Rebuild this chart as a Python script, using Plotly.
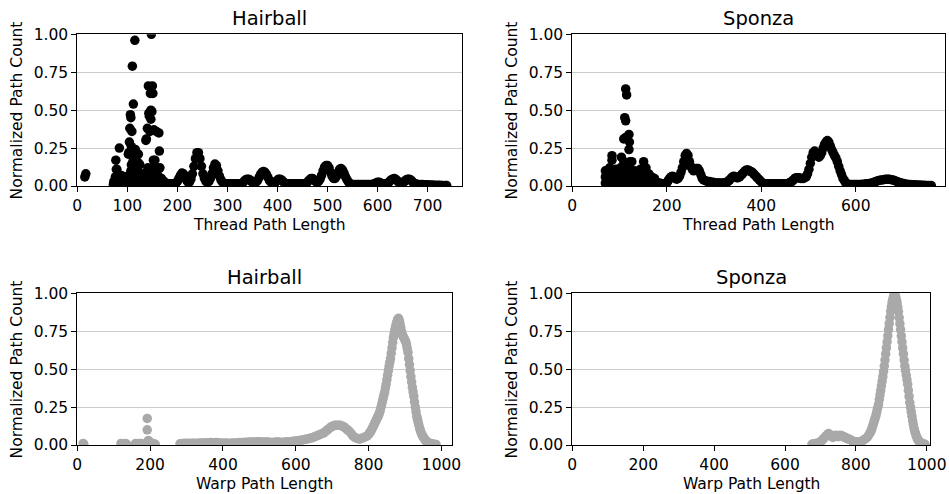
import plotly.graph_objects as go

# ---------------- data (x = path length, y = normalized path count) ----------------
hairball_thread_points = [
    (15, 0.06), (17, 0.08),
    # dense low cluster
    (72, 0.01), (73, 0.03), (75, 0.02), (76, 0.06), (78, 0.11), (79, 0.04), (80, 0.01), (81, 0.08),
    (83, 0.03), (85, 0.05), (86, 0.01), (88, 0.07), (90, 0.02), (91, 0.04), (93, 0.01), (95, 0.03),
    (96, 0.06), (98, 0.02), (100, 0.04), (101, 0.01), (103, 0.07), (105, 0.02), (107, 0.10), (108, 0.04),
    (110, 0.01), (112, 0.13), (113, 0.05), (115, 0.02), (116, 0.08), (118, 0.11), (119, 0.03), (120, 0.06),
    (122, 0.02), (123, 0.09), (125, 0.04), (126, 0.01), (128, 0.07), (129, 0.03), (131, 0.05), (132, 0.08),
    (134, 0.02), (135, 0.06), (137, 0.01), (138, 0.09), (140, 0.03), (141, 0.12), (143, 0.05), (144, 0.01),
    (146, 0.08), (148, 0.03), (149, 0.10), (151, 0.02), (152, 0.06), (154, 0.01), (155, 0.12), (157, 0.04),
    (158, 0.09), (160, 0.02), (161, 0.07), (163, 0.01), (164, 0.05), (166, 0.03),
    # scattered high points
    (77, 0.17), (79, 0.11), (84, 0.25), (102, 0.21), (103, 0.22), (104, 0.29), (105, 0.38), (106, 0.47),
    (107, 0.45), (108, 0.26), (108, 0.14), (109, 0.36), (110, 0.79), (111, 0.16), (112, 0.54), (113, 0.22),
    (114, 0.14), (115, 0.96), (116, 0.24), (117, 0.21), (119, 0.16), (122, 0.21), (123, 0.15), (125, 0.14),
    (137, 0.30), (138, 0.31), (140, 0.38), (142, 0.66), (143, 0.48), (144, 0.46), (145, 0.36), (146, 0.61),
    (147, 0.50), (147, 0.44), (148, 1.00), (149, 0.49), (150, 0.66), (151, 0.61), (152, 0.17), (153, 0.37),
    (154, 0.13), (155, 0.17), (157, 0.10), (158, 0.36), (163, 0.35), (164, 0.23), (165, 0.12),
    # continuous part
    (168, 0.05), (171, 0.035), (174, 0.025), (177, 0.02), (181, 0.015), (185, 0.015), (189, 0.015),
    (193, 0.015), (197, 0.02), (200, 0.03), (203, 0.05), (206, 0.07), (209, 0.085), (212, 0.08),
    (215, 0.06), (218, 0.04), (221, 0.025), (224, 0.025), (227, 0.045), (230, 0.08), (233, 0.13),
    (236, 0.18), (239, 0.22), (242, 0.22), (245, 0.18), (248, 0.13), (251, 0.08), (254, 0.05),
    (257, 0.03), (260, 0.025), (263, 0.03), (266, 0.05), (269, 0.08), (272, 0.12), (275, 0.145),
    (278, 0.135), (281, 0.10), (284, 0.065), (287, 0.04), (290, 0.025), (294, 0.015), (298, 0.015),
    (302, 0.015), (306, 0.015), (310, 0.015), (314, 0.015), (318, 0.015), (322, 0.015), (326, 0.015),
    (330, 0.02), (333, 0.03), (336, 0.04), (339, 0.045), (342, 0.045), (345, 0.04), (348, 0.03),
    (351, 0.02), (354, 0.02), (357, 0.025), (360, 0.035), (363, 0.055), (366, 0.075), (369, 0.09),
    (372, 0.095), (375, 0.09), (378, 0.075), (381, 0.055), (384, 0.035), (387, 0.025), (390, 0.02),
    (393, 0.02), (396, 0.025), (399, 0.035), (402, 0.045), (405, 0.045), (408, 0.04), (411, 0.03),
    (414, 0.02), (418, 0.015), (422, 0.015), (426, 0.015), (430, 0.015), (434, 0.015), (438, 0.015),
    (442, 0.015), (446, 0.015), (450, 0.015), (454, 0.015), (458, 0.02), (461, 0.03), (464, 0.04),
    (467, 0.05), (470, 0.05), (473, 0.04), (476, 0.03), (479, 0.025), (482, 0.03), (485, 0.045),
    (488, 0.07), (491, 0.10), (494, 0.125), (497, 0.135), (500, 0.135), (503, 0.12), (506, 0.09),
    (509, 0.065), (512, 0.05), (515, 0.05), (518, 0.065), (521, 0.09), (524, 0.11), (527, 0.115),
    (530, 0.105), (533, 0.085), (536, 0.06), (539, 0.04), (542, 0.025), (545, 0.015), (549, 0.01),
    (553, 0.01), (557, 0.01), (561, 0.01), (565, 0.01), (569, 0.01), (573, 0.01), (577, 0.01),
    (581, 0.01), (585, 0.01), (589, 0.01), (593, 0.015), (597, 0.02), (600, 0.025), (603, 0.025),
    (606, 0.02), (610, 0.015), (614, 0.01), (618, 0.015), (621, 0.02), (624, 0.03), (627, 0.04),
    (630, 0.045), (633, 0.05), (636, 0.045), (639, 0.035), (642, 0.025), (645, 0.02), (648, 0.02),
    (651, 0.025), (654, 0.03), (657, 0.04), (660, 0.045), (663, 0.045), (666, 0.04), (669, 0.03),
    (672, 0.02), (676, 0.015), (680, 0.01), (685, 0.01), (690, 0.01), (695, 0.008), (700, 0.008),
    (705, 0.006), (710, 0.006), (715, 0.005), (720, 0.005), (725, 0.005), (730, 0.004), (735, 0.004),
    (738, 0.003),
]

sponza_thread_points = [
    # dense low cluster
    (70, 0.02), (70, 0.06), (70, 0.10), (72, 0.01), (73, 0.05), (75, 0.09), (77, 0.03), (79, 0.12),
    (80, 0.06), (82, 0.01), (84, 0.10), (86, 0.04), (88, 0.08), (90, 0.02), (92, 0.11), (94, 0.05),
    (96, 0.01), (98, 0.07), (100, 0.03), (102, 0.12), (104, 0.06), (106, 0.02), (108, 0.09), (110, 0.04),
    (112, 0.13), (114, 0.01), (116, 0.07), (118, 0.10), (120, 0.03), (122, 0.06), (124, 0.11), (126, 0.02),
    (128, 0.08), (130, 0.04), (132, 0.10), (134, 0.01), (136, 0.06), (138, 0.09), (140, 0.03), (142, 0.07),
    (144, 0.11), (146, 0.02), (148, 0.05), (150, 0.10), (152, 0.03), (154, 0.07), (156, 0.12), (158, 0.04),
    (160, 0.02), (162, 0.08), (164, 0.05), (166, 0.03), (168, 0.06), (170, 0.04), (172, 0.02), (174, 0.05),
    (176, 0.03), (178, 0.02), (181, 0.02),
    # scattered high points
    (113, 0.64), (115, 0.60), (111, 0.45), (113, 0.43), (109, 0.31), (113, 0.32), (120, 0.34),
    (121, 0.29), (120, 0.24), (84, 0.20), (84, 0.17), (104, 0.19), (109, 0.16), (122, 0.16),
    (126, 0.16), (151, 0.16),
    # continuous part
    (185, 0.02), (189, 0.015), (193, 0.015), (197, 0.015), (200, 0.02), (203, 0.035), (206, 0.05),
    (209, 0.06), (212, 0.065), (215, 0.06), (218, 0.05), (221, 0.045), (224, 0.05), (227, 0.065),
    (230, 0.09), (233, 0.12), (236, 0.16), (239, 0.20), (242, 0.215), (245, 0.20), (248, 0.16),
    (251, 0.13), (254, 0.11), (257, 0.10), (260, 0.105), (263, 0.115), (266, 0.115), (269, 0.10),
    (272, 0.075), (275, 0.05), (278, 0.04), (282, 0.035), (286, 0.03), (290, 0.03), (294, 0.025),
    (298, 0.025), (302, 0.02), (306, 0.02), (310, 0.02), (314, 0.02), (318, 0.02), (322, 0.02),
    (326, 0.025), (330, 0.03), (333, 0.04), (336, 0.05), (339, 0.06), (342, 0.065), (345, 0.06),
    (348, 0.055), (351, 0.055), (354, 0.06), (357, 0.07), (360, 0.08), (363, 0.09), (366, 0.10),
    (369, 0.105), (372, 0.105), (375, 0.10), (378, 0.095), (381, 0.09), (384, 0.08), (387, 0.07),
    (390, 0.06), (393, 0.05), (396, 0.04), (399, 0.03), (403, 0.02), (407, 0.015), (411, 0.015),
    (415, 0.015), (419, 0.015), (423, 0.015), (427, 0.015), (431, 0.015), (435, 0.015), (439, 0.015),
    (443, 0.015), (447, 0.015), (451, 0.015), (455, 0.015), (459, 0.02), (462, 0.025), (465, 0.03),
    (468, 0.04), (471, 0.05), (474, 0.055), (477, 0.055), (480, 0.055), (483, 0.05), (486, 0.05),
    (489, 0.05), (492, 0.055), (495, 0.06), (498, 0.08), (501, 0.11), (504, 0.15), (507, 0.19),
    (510, 0.22), (513, 0.23), (516, 0.215), (519, 0.20), (522, 0.19), (525, 0.20), (528, 0.22),
    (531, 0.25), (534, 0.275), (537, 0.29), (540, 0.30), (543, 0.29), (546, 0.265), (549, 0.24),
    (552, 0.22), (555, 0.20), (558, 0.185), (561, 0.16), (564, 0.13), (567, 0.10), (570, 0.075),
    (573, 0.05), (576, 0.035), (579, 0.02), (583, 0.012), (587, 0.01), (591, 0.01), (595, 0.01),
    (599, 0.01), (603, 0.01), (607, 0.01), (611, 0.01), (615, 0.012), (619, 0.012), (623, 0.015),
    (627, 0.015), (631, 0.018), (635, 0.02), (639, 0.025), (643, 0.03), (647, 0.035), (651, 0.038),
    (655, 0.04), (659, 0.042), (663, 0.045), (667, 0.045), (671, 0.045), (675, 0.042), (679, 0.04),
    (683, 0.035), (687, 0.03), (691, 0.025), (695, 0.02), (699, 0.018), (703, 0.015), (707, 0.012),
    (711, 0.01), (715, 0.01), (720, 0.008), (725, 0.008), (730, 0.007), (735, 0.006), (740, 0.005),
    (745, 0.005), (750, 0.004), (755, 0.004), (760, 0.003),
]

hairball_warp_points = [
    (16, 0.01), (18, 0.005), (120, 0.01), (125, 0.005), (132, 0.01), (136, 0.005), (160, 0.01),
    (165, 0.005), (170, 0.01), (176, 0.01), (192, 0.175), (192, 0.10), (195, 0.03), (198, 0.01),
    (202, 0.015), (208, 0.01), (214, 0.005),
    (282, 0.008), (287, 0.01), (292, 0.01), (297, 0.012), (302, 0.01), (307, 0.012), (312, 0.01),
    (317, 0.012), (322, 0.012), (327, 0.01), (332, 0.012), (337, 0.014), (342, 0.012), (347, 0.014),
    (352, 0.015), (357, 0.013), (362, 0.014), (367, 0.016), (372, 0.014), (377, 0.015), (382, 0.016),
    (387, 0.014), (392, 0.013), (397, 0.012), (402, 0.012), (407, 0.013), (412, 0.012), (417, 0.01),
    (422, 0.012), (427, 0.013), (432, 0.012), (437, 0.014), (442, 0.015), (447, 0.016), (452, 0.014),
    (457, 0.016), (462, 0.018), (467, 0.017), (472, 0.019), (477, 0.02), (482, 0.018), (487, 0.02),
    (492, 0.022), (497, 0.02), (502, 0.022), (507, 0.02), (512, 0.018), (517, 0.02), (522, 0.019),
    (527, 0.018), (532, 0.016), (537, 0.017), (542, 0.018), (547, 0.02), (552, 0.019), (557, 0.018),
    (562, 0.017), (567, 0.018), (572, 0.02), (577, 0.022), (582, 0.02), (587, 0.022), (592, 0.025),
    (597, 0.025), (602, 0.027), (607, 0.03), (612, 0.03), (617, 0.033), (622, 0.035), (627, 0.038),
    (632, 0.04), (637, 0.043), (642, 0.046), (647, 0.05), (652, 0.055), (657, 0.06), (662, 0.065),
    (667, 0.07), (672, 0.075), (677, 0.08), (682, 0.09), (687, 0.10), (692, 0.11), (697, 0.12),
    (702, 0.125), (707, 0.13), (712, 0.13), (717, 0.13), (722, 0.13), (727, 0.125), (732, 0.12),
    (737, 0.11), (742, 0.10), (747, 0.09), (752, 0.075), (757, 0.06), (762, 0.05), (767, 0.045),
    (772, 0.04), (777, 0.04), (782, 0.045), (787, 0.05), (792, 0.055), (796, 0.06),
    (800, 0.07), (802, 0.077), (804, 0.085), (806, 0.092), (808, 0.10), (810, 0.11), (812, 0.12),
    (814, 0.13), (816, 0.14), (818, 0.15), (820, 0.16), (822, 0.17), (824, 0.18), (826, 0.19),
    (828, 0.20), (830, 0.215), (832, 0.23), (834, 0.25), (836, 0.27), (838, 0.29), (840, 0.31),
    (842, 0.33), (844, 0.35), (846, 0.375), (848, 0.40), (850, 0.43), (852, 0.46), (854, 0.49),
    (856, 0.52), (858, 0.545), (860, 0.57), (862, 0.605), (864, 0.64), (866, 0.675), (868, 0.71),
    (870, 0.735), (872, 0.76), (874, 0.78), (876, 0.80), (878, 0.815), (880, 0.83), (882, 0.835),
    (884, 0.82), (886, 0.80), (888, 0.775), (890, 0.75), (892, 0.73), (894, 0.72), (896, 0.71),
    (898, 0.70), (900, 0.69), (902, 0.68), (904, 0.66), (906, 0.635), (908, 0.61), (910, 0.57),
    (912, 0.53), (914, 0.49), (916, 0.45), (918, 0.415), (920, 0.38), (922, 0.35), (924, 0.32),
    (926, 0.285), (928, 0.25), (930, 0.22), (932, 0.19), (934, 0.17), (936, 0.15), (938, 0.13),
    (940, 0.11), (942, 0.095), (944, 0.08), (946, 0.07), (948, 0.06), (950, 0.052), (952, 0.045),
    (954, 0.037), (956, 0.03), (958, 0.025), (960, 0.02), (965, 0.015), (970, 0.01), (975, 0.008),
    (980, 0.005), (985, 0.004),
]

sponza_warp_points = [
    (676, 0.005), (681, 0.008), (686, 0.01), (691, 0.012), (696, 0.015), (700, 0.02), (704, 0.03),
    (708, 0.04), (712, 0.05), (716, 0.06), (720, 0.07), (723, 0.075), (726, 0.07), (729, 0.06),
    (732, 0.055), (735, 0.05), (738, 0.055), (741, 0.06), (744, 0.065), (747, 0.06), (750, 0.055),
    (753, 0.06), (756, 0.065), (759, 0.06), (762, 0.06), (765, 0.055), (768, 0.05), (771, 0.05),
    (774, 0.045), (777, 0.04), (780, 0.04), (784, 0.035), (788, 0.03), (792, 0.025), (796, 0.02),
    (800, 0.02), (804, 0.02), (808, 0.02), (812, 0.02), (816, 0.025), (820, 0.03), (826, 0.04),
    (832, 0.05), (836, 0.065),
    (840, 0.08), (842, 0.09), (844, 0.10), (846, 0.115), (848, 0.13), (850, 0.145), (852, 0.16),
    (854, 0.175), (856, 0.19), (858, 0.21), (860, 0.23), (862, 0.25), (864, 0.27), (866, 0.30),
    (868, 0.33), (870, 0.36), (872, 0.39), (874, 0.42), (876, 0.45), (878, 0.485), (880, 0.52),
    (882, 0.56), (884, 0.60), (886, 0.64), (888, 0.68), (890, 0.72), (892, 0.76), (894, 0.80),
    (896, 0.84), (898, 0.88), (900, 0.91), (902, 0.94), (904, 0.96), (906, 0.98), (908, 0.99),
    (910, 0.99), (912, 0.98), (914, 0.96), (916, 0.94), (918, 0.91), (920, 0.88), (922, 0.84),
    (924, 0.80), (926, 0.76), (928, 0.72), (930, 0.68), (932, 0.64), (934, 0.60), (936, 0.56),
    (938, 0.52), (940, 0.49), (942, 0.46), (944, 0.43), (946, 0.40), (948, 0.36), (950, 0.32),
    (952, 0.28), (954, 0.25), (956, 0.22), (958, 0.19), (960, 0.16), (962, 0.135), (964, 0.11),
    (966, 0.09), (968, 0.075), (970, 0.06), (972, 0.05), (974, 0.04), (976, 0.03), (978, 0.025),
    (980, 0.02), (985, 0.012), (990, 0.008), (995, 0.005),
]

panel_titles = ["Hairball", "Sponza", "Hairball", "Sponza"]
x_titles = ["Thread Path Length", "Thread Path Length", "Warp Path Length", "Warp Path Length"]
y_title = "Normalized Path Count"
x_ticks = [[0, 100, 200, 300, 400, 500, 600, 700], [0, 200, 400, 600],
           [0, 200, 400, 600, 800, 1000], [0, 200, 400, 600, 800, 1000]]
y_ticks = [0, 0.25, 0.5, 0.75, 1.0]
x_ranges = [[0, 768], [0, 789], [0, 1028], [0, 1009]]

# ---------------- figure ----------------
W, H = 949, 494
FONT = "DejaVu Sans"
TICK_SIZE = 15.5
LABEL_SIZE = 15.5
TITLE_SIZE = 19.5
series = [hairball_thread_points, sponza_thread_points, hairball_warp_points, sponza_warp_points]
colors = ["#000000", "#000000", "#a9a9a9", "#a9a9a9"]

# panel boxes in pixels: (left, right, top, bottom)
boxes = [(77.3, 461.7, 34.3, 186.0), (572.3, 945.0, 34.3, 186.0),
         (77.3, 451.7, 293.3, 445.0), (572.3, 930.0, 293.3, 445.0)]

fig = go.Figure()
layout = dict(width=W, height=H, margin=dict(l=0, r=0, t=0, b=0, autoexpand=False),
              template="none",
              paper_bgcolor="white", plot_bgcolor="white", showlegend=False,
              font=dict(family=FONT, size=TICK_SIZE, color="#000000"))
annotations = []
for i, (pts, col, box) in enumerate(zip(series, colors, boxes)):
    xs = [p[0] for p in pts]
    ys = [p[1] for p in pts]
    n = "" if i == 0 else str(i + 1)
    fig.add_trace(go.Scatter(x=xs, y=ys, mode="markers", xaxis="x" + n, yaxis="y" + n,
                             marker=dict(size=9.5, color=col, line=dict(width=0)),
                             cliponaxis=True, hoverinfo="x+y"))
    l, r, t, b = box
    axis_common = dict(showline=True, linecolor="#000000", linewidth=1, mirror=True,
                       ticks="outside", ticklen=5, tickwidth=1, tickcolor="#000000",
                       zeroline=False, automargin=False,
                       tickfont=dict(family=FONT, size=TICK_SIZE, color="#000000"))
    layout["xaxis" + n] = dict(domain=[l / W, r / W], anchor="y" + n, range=x_ranges[i],
                               tickmode="array", tickvals=x_ticks[i], showgrid=False,
                               **axis_common)
    layout["yaxis" + n] = dict(domain=[1 - b / H, 1 - t / H], anchor="x" + n, range=[0, 1],
                               tickmode="array", tickvals=y_ticks,
                               ticktext=["%.2f" % v for v in y_ticks],
                               showgrid=True, gridcolor="#cccccc", gridwidth=1,
                               **axis_common)
    cx = (l + r) / 2 / W
    annotations.append(dict(text=panel_titles[i], x=cx, y=1 - (t - 16) / H, xref="paper", yref="paper",
                            showarrow=False, xanchor="center", yanchor="middle",
                            font=dict(family=FONT, size=TITLE_SIZE, color="#000000")))
    annotations.append(dict(text=x_titles[i], x=cx, y=1 - (b + 38.5) / H, xref="paper", yref="paper",
                            showarrow=False, xanchor="center", yanchor="middle",
                            font=dict(family=FONT, size=LABEL_SIZE, color="#000000")))
    annotations.append(dict(text=y_title, x=(l - 60) / W, y=1 - (t + b) / 2 / H, xref="paper", yref="paper",
                            showarrow=False, xanchor="center", yanchor="middle", textangle=-90,
                            font=dict(family=FONT, size=LABEL_SIZE, color="#000000")))
layout["annotations"] = annotations
fig.update_layout(**layout)
fig.write_html("out.html", config={"displayModeBar": False},
               post_script="document.body.style.margin='0px';document.body.style.overflow='hidden';")
